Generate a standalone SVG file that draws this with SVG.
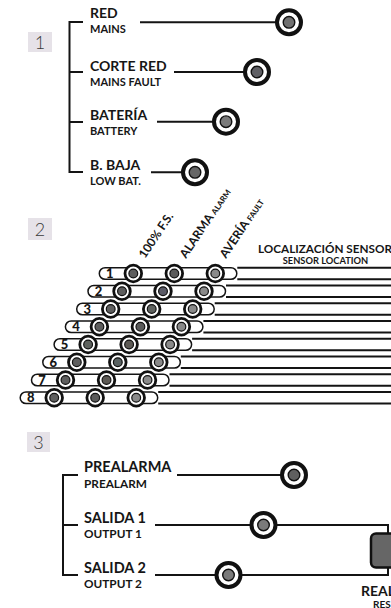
<svg xmlns="http://www.w3.org/2000/svg" xmlns:xlink="http://www.w3.org/1999/xlink" width="391" height="608" viewBox="0 0 391 608">
<style>
text{font-family:Lato,"Open Sans","Liberation Sans",sans-serif;fill:#161616;font-weight:700}
.big{font-size:14px}
.sm{font-size:11px}
.sm3{font-size:11.8px}
.num{font-family:Lato,"Open Sans","Liberation Sans",sans-serif;font-weight:300;font-size:18px;fill:#3a3a3a;text-anchor:middle}
.tag{fill:#e6e2e8}
.ln{stroke:#141414;stroke-width:2;fill:none}
.pill{stroke:#141414;stroke-width:1.5;fill:#fff}
.rn{font-size:13px;font-weight:900;text-anchor:middle}
.rot{font-size:12px}
.rot tspan{font-size:8px}
</style>
<defs>
<g id="ledL"><circle r="12" fill="#fff" stroke="#111" stroke-width="4"/><circle r="5.8" stroke="#111" stroke-width="1.4"/></g>
<g id="ledS"><circle r="8.3" fill="#fff" stroke="#111" stroke-width="2.8"/><circle r="4.4" stroke="#111" stroke-width="1.2"/></g>
</defs>
<rect width="391" height="608" fill="#fff"/>

<g id="connectors">
<path class="ln" d="M83,22 H69.5 V172 H83 M69.5,72 H83 M69.5,122 H83"/>
<path class="ln" d="M140,22.3 H277 M174,72 H245 M157,121.7 H214 M151,172.3 H183"/>
<path class="ln" d="M78,475 H63 V575 H78 M63,525 H78"/>
<path class="ln" d="M177,475 H282 M155,525 H251 M276,525 H388 V534 M388,567 V575 H241 M155,575 H216"/>
<g id="sensor-lines" class="ln">
<path d="M237.3,267.7 H391 M237.3,279.3 H391"/>
<path d="M226,285.45 H391 M226,297.05 H391"/>
<path d="M214.7,303.2 H391 M214.7,314.8 H391"/>
<path d="M203.4,320.95 H391 M203.4,332.55 H391"/>
<path d="M192.1,338.7 H391 M192.1,350.3 H391"/>
<path d="M180.8,356.45 H391 M180.8,368.05 H391"/>
<path d="M169.5,374.2 H391 M169.5,385.8 H391"/>
<path d="M158.2,391.95 H391 M158.2,403.55 H391"/>
</g>
</g>

<g id="tag1"><rect class="tag" x="28" y="32" width="24" height="20"/><text class="num" x="40" y="48.5">1</text></g>
<g id="tag2"><rect class="tag" x="28" y="218" width="24" height="22"/><text class="num" x="40" y="235.5">2</text></g>
<g id="tag3"><rect class="tag" x="27" y="432" width="23" height="20"/><text class="num" x="38.5" y="448.5">3</text></g>

<g id="red"><text class="big" x="90" y="18.3">RED</text><text class="sm" x="90" y="33.3">MAINS</text><use xlink:href="#ledL" x="289" y="22.3" fill="#707070"/></g>
<g id="corte-red"><text class="big" x="90" y="70.7">CORTE RED</text><text class="sm" x="90" y="86">MAINS FAULT</text><use xlink:href="#ledL" x="257" y="72" fill="#5f5f64"/></g>
<g id="bateria"><text class="big" x="90" y="120">BATERÍA</text><text class="sm" x="90" y="135">BATTERY</text><use xlink:href="#ledL" x="226" y="121.7" fill="#7a7a7a"/></g>
<g id="b-baja"><text class="big" x="90" y="170">B. BAJA</text><text class="sm" x="90" y="185">LOW BAT.</text><use xlink:href="#ledL" x="195" y="172.3" fill="#666"/></g>

<g id="col-labels">
<text class="rot" transform="translate(145,259) rotate(-56)">100% F.S.</text>
<text class="rot" transform="translate(186,259) rotate(-56)">ALARMA <tspan>ALARM</tspan></text>
<text class="rot" transform="translate(226,259) rotate(-56)">AVERÍA <tspan>FAULT</tspan></text>
</g>
<g id="sensor-title"><text x="258" y="253" style="font-size:12px" textLength="134" lengthAdjust="spacingAndGlyphs">LOCALIZACIÓN SENSOR</text><text x="325.5" y="264" style="font-size:9.3px" text-anchor="middle">SENSOR LOCATION</text></g>

<g id="row1"><rect class="pill" x="99.3" y="267.7" width="137.5" height="11.6" rx="5.8"/><text class="rn" x="109.8" y="278.2">1</text><use xlink:href="#ledS" x="133.3" y="273.5" fill="#5e5e5e"/><use xlink:href="#ledS" x="174.3" y="273.5" fill="#5a5a5a"/><use xlink:href="#ledS" x="215.3" y="273.5" fill="#8a8a8a"/></g>
<g id="row2"><rect class="pill" x="88" y="285.45" width="137.5" height="11.6" rx="5.8"/><text class="rn" x="98.5" y="295.95">2</text><use xlink:href="#ledS" x="122" y="291.25" fill="#5e5e5e"/><use xlink:href="#ledS" x="163" y="291.25" fill="#5a5a66"/><use xlink:href="#ledS" x="204" y="291.25" fill="#8a8a8a"/></g>
<g id="row3"><rect class="pill" x="76.7" y="303.2" width="137.5" height="11.6" rx="5.8"/><text class="rn" x="87.2" y="313.7">3</text><use xlink:href="#ledS" x="110.7" y="309" fill="#5e5e5e"/><use xlink:href="#ledS" x="151.7" y="309" fill="#5f625f"/><use xlink:href="#ledS" x="192.7" y="309" fill="#8a8a8a"/></g>
<g id="row4"><rect class="pill" x="65.4" y="320.95" width="137.5" height="11.6" rx="5.8"/><text class="rn" x="75.9" y="331.45">4</text><use xlink:href="#ledS" x="99.4" y="326.75" fill="#5e5e5e"/><use xlink:href="#ledS" x="140.4" y="326.75" fill="#5a5a5a"/><use xlink:href="#ledS" x="181.4" y="326.75" fill="#8a8a8a"/></g>
<g id="row5"><rect class="pill" x="54.1" y="338.7" width="137.5" height="11.6" rx="5.8"/><text class="rn" x="64.6" y="349.2">5</text><use xlink:href="#ledS" x="88.1" y="344.5" fill="#5e625e"/><use xlink:href="#ledS" x="129.1" y="344.5" fill="#5d5a55"/><use xlink:href="#ledS" x="170.1" y="344.5" fill="#8a8a8a"/></g>
<g id="row6"><rect class="pill" x="42.8" y="356.45" width="137.5" height="11.6" rx="5.8"/><text class="rn" x="53.3" y="366.95">6</text><use xlink:href="#ledS" x="76.8" y="362.25" fill="#5e5e5e"/><use xlink:href="#ledS" x="117.8" y="362.25" fill="#5a6262"/><use xlink:href="#ledS" x="158.8" y="362.25" fill="#8a8a8a"/></g>
<g id="row7"><rect class="pill" x="31.5" y="374.2" width="137.5" height="11.6" rx="5.8"/><text class="rn" x="42" y="384.7">7</text><use xlink:href="#ledS" x="65.5" y="380" fill="#5e5e5e"/><use xlink:href="#ledS" x="106.5" y="380" fill="#5d5a55"/><use xlink:href="#ledS" x="147.5" y="380" fill="#8a8a8a"/></g>
<g id="row8"><rect class="pill" x="20.2" y="391.95" width="137.5" height="11.6" rx="5.8"/><text class="rn" x="30.7" y="402.45">8</text><use xlink:href="#ledS" x="54.2" y="397.75" fill="#5e5e5e"/><use xlink:href="#ledS" x="95.2" y="397.75" fill="#5a5a5a"/><use xlink:href="#ledS" x="136.2" y="397.75" fill="#8a8a8a"/></g>

<g id="prealarma"><text class="big" x="84" y="471.7" style="font-size:14.5px">PREALARMA</text><text class="sm3" x="84" y="487.7">PREALARM</text><use xlink:href="#ledL" x="294" y="475" fill="#5f5f5f"/></g>
<g id="salida1"><text class="big" x="84" y="522.7" style="font-size:14.5px">SALIDA 1</text><text class="sm3" x="84" y="537.7">OUTPUT 1</text><use xlink:href="#ledL" x="263.5" y="525" fill="#7a7a7a"/></g>
<g id="salida2"><text class="big" x="84" y="573.3" style="font-size:14.5px">SALIDA 2</text><text class="sm3" x="84" y="588.3">OUTPUT 2</text><use xlink:href="#ledL" x="228.5" y="575" fill="#7a7a7a"/></g>
<g id="relay"><rect x="371" y="533.5" width="30" height="34" rx="5" fill="#666" stroke="#111" stroke-width="2.5"/><text class="big" x="361" y="596">REAL</text><text class="sm" x="373" y="607.5" style="font-size:10px">RES</text></g>
</svg>
